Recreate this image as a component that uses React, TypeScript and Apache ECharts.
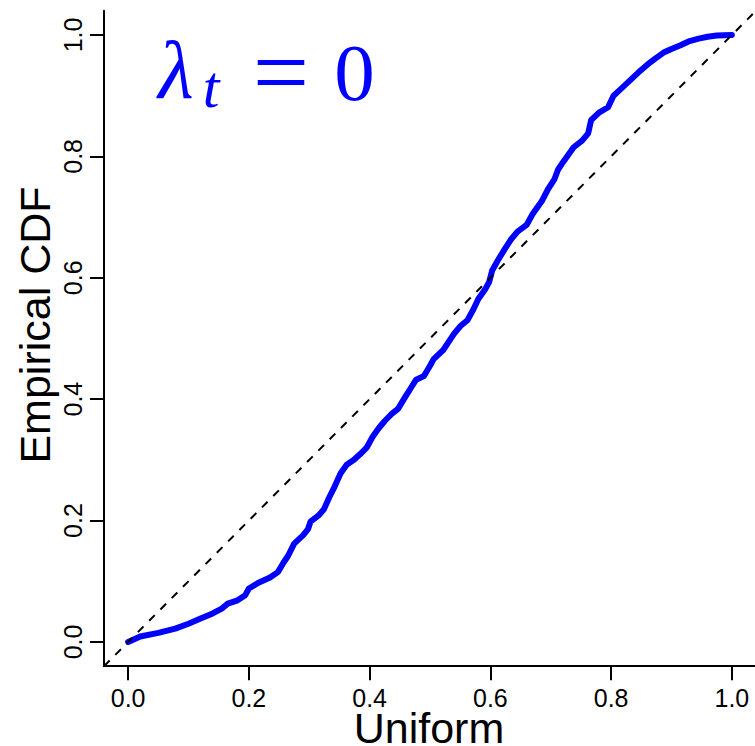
import React, { useEffect, useRef } from "react";
import * as echarts from "echarts";

// Empirical CDF vs Uniform quantiles
const uniformX: number[] = [
  0, 0.02, 0.05, 0.078, 0.1, 0.119, 0.14, 0.155, 0.165, 0.18, 0.194, 0.2, 0.215, 0.235, 0.248,
  0.257, 0.265, 0.275, 0.29, 0.298, 0.302, 0.315, 0.324, 0.333, 0.342, 0.352, 0.362, 0.374,
  0.385, 0.395, 0.405, 0.415, 0.425, 0.437, 0.447, 0.458, 0.468, 0.477, 0.49, 0.5, 0.506,
  0.522, 0.532, 0.54, 0.55, 0.562, 0.572, 0.58, 0.592, 0.598, 0.603, 0.612, 0.623, 0.634,
  0.645, 0.66, 0.67, 0.685, 0.695, 0.706, 0.712, 0.72, 0.738, 0.752, 0.762, 0.767, 0.78,
  0.795, 0.804, 0.815, 0.83, 0.845, 0.86, 0.873, 0.887, 0.9, 0.915, 0.93, 0.945, 0.96, 0.975, 1.0,
];
const empiricalCdf: number[] = [
  0, 0.009, 0.015, 0.022, 0.03, 0.038, 0.047, 0.055, 0.063, 0.068, 0.077, 0.088, 0.097, 0.106,
  0.115, 0.13, 0.142, 0.162, 0.176, 0.186, 0.198, 0.208, 0.218, 0.238, 0.256, 0.278, 0.292,
  0.3, 0.31, 0.32, 0.338, 0.352, 0.364, 0.376, 0.384, 0.402, 0.418, 0.432, 0.438, 0.455,
  0.466, 0.481, 0.496, 0.508, 0.52, 0.53, 0.548, 0.565, 0.582, 0.593, 0.612, 0.628, 0.646,
  0.663, 0.676, 0.687, 0.705, 0.726, 0.745, 0.762, 0.778, 0.79, 0.815, 0.826, 0.838, 0.86,
  0.872, 0.881, 0.9, 0.91, 0.924, 0.938, 0.951, 0.961, 0.971, 0.977, 0.983, 0.99, 0.994,
  0.997, 0.999, 1.0,
];
// reference line y = x across the full plotting range
const refLineX: number[] = [-0.04, 1.04];
const refLineY: number[] = [-0.04, 1.04];

const tickValues: number[] = [0, 0.2, 0.4, 0.6, 0.8, 1.0];
const axisMin = -0.04;
const axisMax = 1.04;
const xTitle = "Uniform";
const yTitle = "Empirical CDF";

const SANS = "'Liberation Sans', Arial, Helvetica, sans-serif";
const SERIF = "'Liberation Serif', 'Times New Roman', serif";

export default function App() {
  const ref = useRef<HTMLDivElement>(null);

  useEffect(() => {
    if (!ref.current) return;
    const chart = echarts.init(ref.current, undefined, { renderer: "svg" });

    const axisCommon = {
      type: "value" as const,
      min: axisMin,
      max: axisMax,
      axisLine: { show: true, onZero: false, lineStyle: { color: "#000", width: 2 } },
      axisTick: {
        show: true,
        customValues: tickValues,
        length: 14,
        lineStyle: { color: "#000", width: 2 },
      },
      axisLabel: {
        show: true,
        customValues: tickValues,
        formatter: (v: number) => v.toFixed(1),
        color: "#000",
        fontFamily: SANS,
        fontSize: 25,
        margin: 19,
      },
      splitLine: { show: false },
    };

    chart.setOption({
      animation: false,
      backgroundColor: "#fff",
      grid: {
        left: 104,
        top: 10.7,
        width: 652,
        height: 655.5,
        containLabel: false,
        outerBoundsMode: "none",
      },
      xAxis: { ...axisCommon },
      yAxis: { ...axisCommon, axisLabel: { ...axisCommon.axisLabel, rotate: 90 } },
      series: [
        {
          type: "line",
          data: uniformX.map((x, i) => [x, empiricalCdf[i]]),
          showSymbol: false,
          symbol: "none",
          lineStyle: { color: "#0000ff", width: 6, cap: "round", join: "round" },
          z: 2,
        },
        {
          type: "line",
          data: refLineX.map((x, i) => [x, refLineY[i]]),
          showSymbol: false,
          symbol: "none",
          lineStyle: { color: "#000", width: 2, type: [8, 8] },
          z: 3,
        },
      ],
      graphic: [
        {
          type: "text",
          x: 429,
          y: 728,
          style: {
            text: xTitle,
            fontFamily: SANS,
            fontSize: 43,
            fill: "#000",
            align: "center",
            verticalAlign: "middle",
          },
        },
        {
          type: "text",
          x: 35,
          y: 325,
          rotation: Math.PI / 2,
          style: {
            text: yTitle,
            fontFamily: SANS,
            fontSize: 43,
            fill: "#000",
            align: "center",
            verticalAlign: "middle",
          },
        },
        {
          type: "text",
          x: 176,
          y: 70,
          style: {
            text: "λ",
            fontFamily: SERIF,
            fontStyle: "italic",
            fontSize: 82,
            fill: "#0000ff",
            align: "center",
            verticalAlign: "middle",
          },
        },
        {
          type: "text",
          x: 211,
          y: 87,
          style: {
            text: "t",
            fontFamily: SERIF,
            fontStyle: "italic",
            fontSize: 60,
            fill: "#0000ff",
            align: "center",
            verticalAlign: "middle",
          },
        },
        {
          type: "text",
          x: 281,
          y: 72,
          style: {
            text: "=",
            fontFamily: SERIF,
            fontSize: 100,
            fill: "#0000ff",
            align: "center",
            verticalAlign: "middle",
          },
        },
        {
          type: "text",
          x: 354.5,
          y: 72.5,
          style: {
            text: "0",
            fontFamily: SERIF,
            fontSize: 81,
            fill: "#0000ff",
            align: "center",
            verticalAlign: "middle",
          },
        },
      ],
    });

    return () => chart.dispose();
  }, []);

  return (
    <div
      ref={ref}
      style={{ position: "fixed", left: 0, top: 0, width: 755, height: 746, background: "#fff" }}
    />
  );
}
